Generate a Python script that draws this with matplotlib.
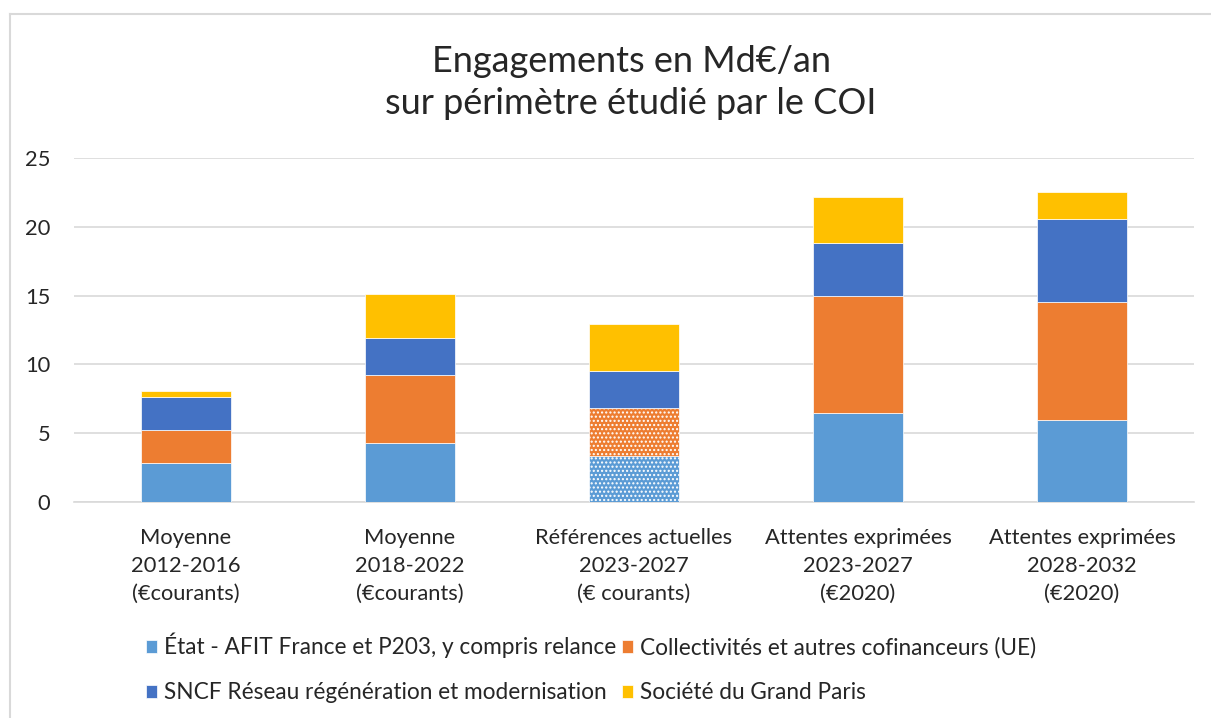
import numpy as np
import matplotlib
matplotlib.use("Agg")
import matplotlib.pyplot as plt
from matplotlib.lines import Line2D

plt.rcParams['font.family'] = ['Lato', 'DejaVu Sans']

# categories and stacked values (Md€/an)
categories = [
    "Moyenne\n2012-2016\n(€courants)",
    "Moyenne\n2018-2022\n(€courants)",
    "Références actuelles\n2023-2027\n(€ courants)",
    "Attentes exprimées\n2023-2027\n(€2020)",
    "Attentes exprimées\n2028-2032\n(€2020)",
]
etat = [2.8, 4.3, 3.35, 6.5, 5.95]
collectivites = [2.4, 4.9, 3.45, 8.5, 8.55]
sncf = [2.4, 2.7, 2.75, 3.8, 6.1]
sgp = [0.5, 3.2, 3.4, 3.4, 1.9]

series_names = [
    "État - AFIT France et P203, y compris relance",
    "Collectivités et autres cofinanceurs (UE)",
    "SNCF Réseau régénération et modernisation",
    "Société du Grand Paris",
]
colors = ['#5B9BD5', '#ED7D31', '#4472C4', '#FFC000']
hatched_bar = 2  # "références actuelles" shown with a dotted pattern

fig = plt.figure(figsize=(12.11, 7.18), dpi=100)
ax = fig.add_axes([74 / 1211, 1 - 502 / 718, 1120 / 1211, 344 / 718])

x = np.arange(len(categories))
bottom = np.zeros(len(categories))
containers = []
for i, (vals, name, col) in enumerate(zip([etat, collectivites, sncf, sgp], series_names, colors)):
    bars = ax.bar(x, vals, width=0.4, bottom=bottom, color=col, label=name,
                  edgecolor='white', linewidth=0.5, zorder=3)
    # the first two layers of the third bar are dotted
    if i < 2:
        bars.patches[hatched_bar].set_hatch('....')
    containers.append(bars)
    bottom += np.array(vals)

ax.set_xlim(-0.5, len(categories) - 0.5)
ax.set_ylim(0, 25)
ax.set_yticks(range(0, 26, 5))
ax.set_xticks(x)
ax.set_xticklabels(categories, fontsize=15.75, linespacing=1.47)
ax.tick_params(axis='both', length=0, labelsize=15.75, colors='#262626')
ax.tick_params(axis='y', pad=17)
ax.tick_params(axis='x', pad=19)
ax.grid(axis='y', color='#D9D9D9', linewidth=1.2, zorder=0)
for side in ['top', 'right', 'left']:
    ax.spines[side].set_visible(False)
ax.spines['bottom'].set_color('#D9D9D9')
ax.spines['bottom'].set_linewidth(1.2)

# title in two lines
fig.text(631 / 1211, 1 - 62 / 718, "Engagements en Md€/an", ha='center', va='center',
         fontsize=26, color='#262626')
fig.text(631 / 1211, 1 - 103 / 718, "sur périmètre étudié par le COI", ha='center', va='center',
         fontsize=26, color='#262626')

# legend: row order 0,1 / 2,3 so feed it column-wise
handles = [containers[k] for k in [0, 2, 1, 3]]
labels = [series_names[k] for k in [0, 2, 1, 3]]
ax.legend(handles, labels, ncol=2, loc='upper left', bbox_to_anchor=(146 / 1211, 1 - 633 / 718),
          bbox_transform=fig.transFigure, frameon=False, fontsize=16.3,
          handlelength=0.5, handleheight=0.5, handletextpad=0.3, columnspacing=0.25,
          labelspacing=1.05, borderpad=0, borderaxespad=0, labelcolor='#262626')

# chart frame (only left and top edges visible)
fig.add_artist(Line2D([10 / 1211, 10 / 1211], [0, 1 - 14 / 718], transform=fig.transFigure,
                      color='#D9D9D9', linewidth=1.5))
fig.add_artist(Line2D([10 / 1211, 1], [1 - 14 / 718, 1 - 14 / 718], transform=fig.transFigure,
                      color='#D9D9D9', linewidth=1.5))

fig.savefig('out.png', dpi=100)
